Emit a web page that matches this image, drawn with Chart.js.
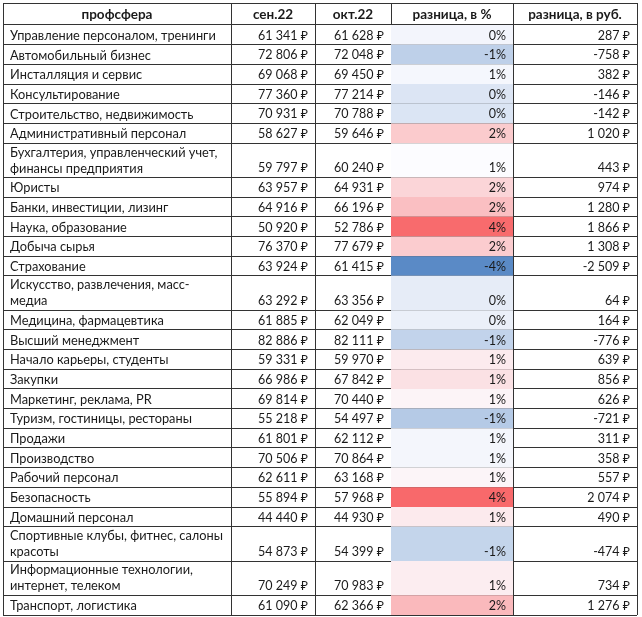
<!DOCTYPE html>
<html lang="ru">
<head>
<meta charset="utf-8">
<title>Зарплаты по профсферам</title>
<script src="https://cdn.jsdelivr.net/npm/chart.js@4.4.1/dist/chart.umd.min.js"></script>
<style>
  html, body { margin: 0; padding: 0; background: #fff; }
  #wrap { width: 642px; height: 617px; }
</style>
</head>
<body>
<div id="wrap"><canvas id="tableChart" width="642" height="617"></canvas></div>
<script>
const headers = ["профсфера", "сен.22", "окт.22", "разница, в %", "разница, в руб."];

const professions = [
  "Управление персоналом, тренинги",
  "Автомобильный бизнес",
  "Инсталляция и сервис",
  "Консультирование",
  "Строительство, недвижимость",
  "Административный персонал",
  ["Бухгалтерия, управленческий учет,", "финансы предприятия"],
  "Юристы",
  "Банки, инвестиции, лизинг",
  "Наука, образование",
  "Добыча сырья",
  "Страхование",
  ["Искусство, развлечения, масс-", "медиа"],
  "Медицина, фармацевтика",
  "Высший менеджмент",
  "Начало карьеры, студенты",
  "Закупки",
  "Маркетинг, реклама, PR",
  "Туризм, гостиницы, рестораны",
  "Продажи",
  "Производство",
  "Рабочий персонал",
  "Безопасность",
  "Домашний персонал",
  ["Спортивные клубы, фитнес, салоны", "красоты"],
  ["Информационные технологии,", "интернет, телеком"],
  "Транспорт, логистика"
];

const sep22 = [61341, 72806, 69068, 77360, 70931, 58627, 59797, 63957, 64916, 50920, 76370, 63924, 63292, 61885,
  82886, 59331, 66986, 69814, 55218, 61801, 70506, 62611, 55894, 44440, 54873, 70249, 61090];
const oct22 = [61628, 72048, 69450, 77214, 70788, 59646, 60240, 64931, 66196, 52786, 77679, 61415, 63356, 62049,
  82111, 59970, 67842, 70440, 54497, 62112, 70864, 63168, 57968, 44930, 54399, 70983, 62366];
const diffPct = [0, -1, 1, 0, 0, 2, 1, 2, 2, 4, 2, -4, 0, 0, -1, 1, 1, 1, -1, 1, 1, 1, 4, 1, -1, 1, 2];
const diffRub = [287, -758, 382, -146, -142, 1020, 443, 974, 1280, 1866, 1308, -2509, 64, 164, -776, 639, 856,
  626, -721, 311, 358, 557, 2074, 490, -474, 734, 1276];

// раскладка таблицы (в пикселях)
const colEdges = [0, 228, 312, 388, 510, 634];
const headerH = 22;
const rowH = 19.7;
const extraLineH = 14.6;
const FONT = 'Lato, "Open Sans", "Noto Sans", "DejaVu Sans", sans-serif';

const rowTops = [];
const rowBottoms = [];
let yPos = headerH;
professions.forEach(function (p) {
  const lines = Array.isArray(p) ? p.length : 1;
  rowTops.push(yPos);
  yPos += rowH + (lines - 1) * extraLineH;
  rowBottoms.push(yPos);
});
const tableH = yPos;

// цветовая шкала как в Excel: синий - белый (медиана) - красный
const ratio = sep22.map((v, i) => (diffRub[i] / v) * 100);
const sorted = ratio.slice().sort((a, b) => a - b);
const lo = sorted[0];
const hi = sorted[sorted.length - 1];
const mid = sorted[Math.floor(sorted.length / 2)];
const blue = [90, 138, 198], white = [252, 252, 255], red = [248, 105, 107];

function mix(a, b, t) {
  return "rgb(" + a.map((c, k) => Math.round(c + (b[k] - c) * t)).join(",") + ")";
}
function heatColor(v) {
  if (v <= mid) return mix(white, blue, (mid - v) / (mid - lo));
  return mix(white, red, (v - mid) / (hi - mid));
}

function rub(n) {
  const s = Math.abs(n).toString().replace(/\B(?=(\d{3})+(?!\d))/g, " ");
  return (n < 0 ? "-" : "") + s + " ₽";
}

const tableText = {
  id: "tableText",
  afterDraw(chart) {
    const { ctx } = chart;
    const x = chart.scales.x, y = chart.scales.y;
    ctx.save();
    ctx.textBaseline = "middle";
    ctx.fillStyle = "#1a1a1a";

    ctx.font = "bold 13.5px " + FONT;
    ctx.textAlign = "center";
    headers.forEach(function (h, c) {
      ctx.fillText(h, x.getPixelForValue((colEdges[c] + colEdges[c + 1]) / 2), y.getPixelForValue(headerH / 2) + 0.5);
    });

    professions.forEach(function (p, i) {
      const lines = [].concat(p);
      const base = y.getPixelForValue(rowBottoms[i]) - 9;
      ctx.font = "12.8px " + FONT;
      ctx.textAlign = "left";
      lines.forEach(function (ln, k) {
        ctx.fillText(ln, x.getPixelForValue(colEdges[0]) + 7, base - (lines.length - 1 - k) * 16);
      });
      ctx.font = "12.5px " + FONT;
      ctx.textAlign = "right";
      const cells = [rub(sep22[i]), rub(oct22[i]), diffPct[i] + "%", rub(diffRub[i])];
      cells.forEach(function (t, c) {
        ctx.fillText(t, x.getPixelForValue(colEdges[c + 2]) - 7, base);
      });
    });
    ctx.restore();
  }
};

const gridOpts = { color: "#333333", lineWidth: 1, drawTicks: false, offset: false };

new Chart(document.getElementById("tableChart").getContext("2d"), {
  type: "bar",
  data: {
    datasets: [
      {
        data: ratio.map((v, i) => ({ x: (colEdges[3] + colEdges[4]) / 2, y: [rowTops[i], rowBottoms[i]] })),
        backgroundColor: (c) => heatColor(ratio[c.dataIndex]),
        barThickness: colEdges[4] - colEdges[3],
        borderWidth: 0,
        inflateAmount: 0
      }
    ]
  },
  options: {
    responsive: false,
    animation: false,
    devicePixelRatio: 1,
    layout: { padding: { left: 3, top: 3, right: 5, bottom: 2 } },
    plugins: { legend: { display: false }, tooltip: { enabled: false } },
    scales: {
      x: {
        type: "linear",
        min: 0,
        max: colEdges[colEdges.length - 1],
        offset: false,
        z: 1,
        ticks: { display: false },
        grid: gridOpts,
        border: { display: false },
        afterBuildTicks: (s) => { s.ticks = colEdges.map((v) => ({ value: v })); }
      },
      y: {
        type: "linear",
        reverse: true,
        min: 0,
        max: tableH,
        offset: false,
        z: 1,
        ticks: { display: false },
        grid: gridOpts,
        border: { display: false },
        afterBuildTicks: (s) => { s.ticks = [0, headerH].concat(rowBottoms).map((v) => ({ value: v })); }
      }
    }
  },
  plugins: [tableText]
});
</script>
</body>
</html>
